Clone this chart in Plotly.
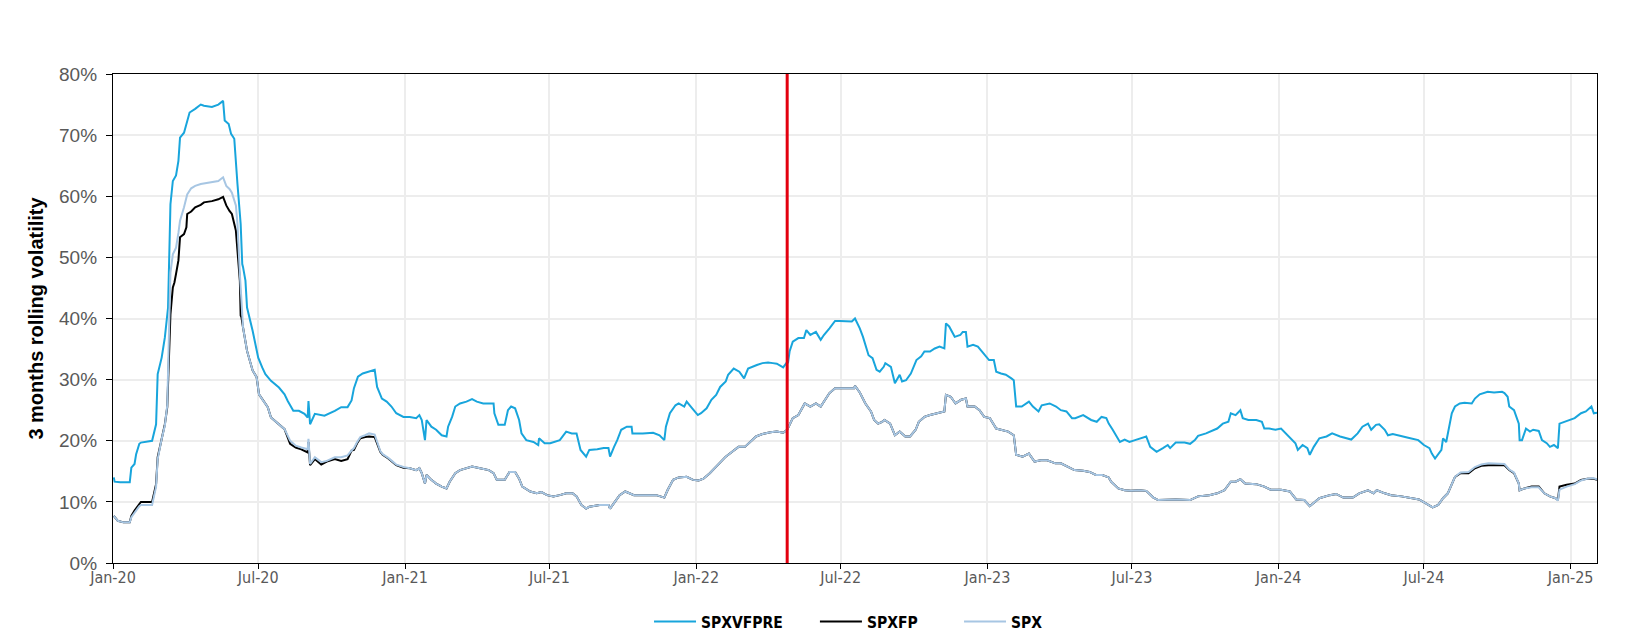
import plotly.graph_objects as go

# ---------------- data ----------------
vf_dates = [
"2020-01-02","2020-01-03","2020-01-10","2020-01-22","2020-01-24","2020-01-28","2020-01-30","2020-02-03","2020-02-05","2020-02-19",
"2020-02-24","2020-02-26","2020-03-02","2020-03-06","2020-03-10","2020-03-12","2020-03-13","2020-03-16","2020-03-20","2020-03-23",
"2020-03-25","2020-03-30","2020-04-02","2020-04-06","2020-04-13","2020-04-20","2020-04-24","2020-05-04","2020-05-12","2020-05-18",
"2020-05-20","2020-05-25","2020-05-28","2020-06-01","2020-06-05","2020-06-09","2020-06-11","2020-06-12","2020-06-15","2020-06-17",
"2020-06-24","2020-07-01","2020-07-06","2020-07-10","2020-07-17","2020-07-27","2020-08-03","2020-08-07","2020-08-14","2020-08-21",
"2020-08-28","2020-09-01","2020-09-02","2020-09-04","2020-09-10","2020-09-22","2020-10-05","2020-10-13","2020-10-21","2020-10-26",
"2020-10-29","2020-11-03","2020-11-09","2020-11-17","2020-11-24","2020-11-27","2020-12-03","2020-12-09","2020-12-15","2020-12-21",
"2020-12-30","2021-01-07","2021-01-15","2021-01-19","2021-01-22","2021-01-26","2021-01-28","2021-02-03","2021-02-09","2021-02-16",
"2021-02-22","2021-02-24","2021-03-01","2021-03-05","2021-03-11","2021-03-19","2021-03-26","2021-04-01","2021-04-09","2021-04-22",
"2021-04-23","2021-04-28","2021-05-06","2021-05-10","2021-05-14","2021-05-19","2021-05-24","2021-05-27","2021-06-02","2021-06-11",
"2021-06-17","2021-06-18","2021-06-25","2021-07-02","2021-07-08","2021-07-14","2021-07-22","2021-07-29","2021-08-04","2021-08-09",
"2021-08-16","2021-08-20","2021-08-30","2021-09-07","2021-09-13","2021-09-15","2021-09-20","2021-09-24","2021-09-29","2021-10-06",
"2021-10-12","2021-10-13","2021-10-26","2021-11-08","2021-11-16","2021-11-22","2021-11-24","2021-11-29","2021-12-06","2021-12-10",
"2021-12-17","2021-12-20","2021-12-27","2022-01-03","2022-01-07","2022-01-14","2022-01-20","2022-01-26","2022-01-31","2022-02-07",
"2022-02-10","2022-02-17","2022-02-24","2022-03-02","2022-03-07","2022-03-14","2022-03-18","2022-03-25","2022-04-01","2022-04-07",
"2022-04-12","2022-04-20","2022-04-25","2022-04-26","2022-04-28","2022-05-02","2022-05-09","2022-05-16","2022-05-19","2022-05-24",
"2022-05-31","2022-06-06","2022-06-10","2022-06-17","2022-06-24","2022-06-30","2022-07-08","2022-07-15","2022-07-19","2022-07-25",
"2022-07-29","2022-08-05","2022-08-10","2022-08-15","2022-08-19","2022-08-24","2022-08-26","2022-09-02","2022-09-07","2022-09-13",
"2022-09-16","2022-09-21","2022-09-27","2022-10-04","2022-10-10","2022-10-14","2022-10-21","2022-10-27","2022-11-02","2022-11-08",
"2022-11-10","2022-11-14","2022-11-21","2022-11-28","2022-12-01","2022-12-05","2022-12-07","2022-12-14","2022-12-20","2022-12-27",
"2023-01-03","2023-01-09","2023-01-12","2023-01-18","2023-01-24","2023-01-31","2023-02-03","2023-02-06","2023-02-13","2023-02-22",
"2023-02-27","2023-03-06","2023-03-10","2023-03-20","2023-03-28","2023-04-03","2023-04-10","2023-04-17","2023-04-21","2023-05-01",
"2023-05-05","2023-05-11","2023-05-18","2023-05-24","2023-05-30","2023-06-02","2023-06-07","2023-06-16","2023-06-22","2023-06-28",
"2023-07-05","2023-07-11","2023-07-19","2023-07-24","2023-08-01","2023-08-09","2023-08-15","2023-08-18","2023-08-25","2023-09-05",
"2023-09-12","2023-09-18","2023-09-22","2023-10-02","2023-10-10","2023-10-16","2023-10-23","2023-10-30","2023-11-02","2023-11-08",
"2023-11-14","2023-11-17","2023-11-24","2023-12-04","2023-12-11","2023-12-14","2023-12-20","2023-12-28","2024-01-04","2024-01-10",
"2024-01-16","2024-01-22","2024-01-25","2024-01-31","2024-02-06","2024-02-09","2024-02-14","2024-02-21","2024-03-01","2024-03-08",
"2024-03-18","2024-03-26","2024-04-01","2024-04-09","2024-04-15","2024-04-22","2024-04-26","2024-05-02","2024-05-06","2024-05-13",
"2024-05-17","2024-05-23","2024-06-03","2024-06-14","2024-06-24","2024-07-01","2024-07-08","2024-07-11","2024-07-15","2024-07-19",
"2024-07-23","2024-07-25","2024-07-29","2024-08-05","2024-08-09","2024-08-15","2024-08-21","2024-08-30","2024-09-03","2024-09-09",
"2024-09-19","2024-09-27","2024-10-07","2024-10-10","2024-10-14","2024-10-16","2024-10-22","2024-10-28","2024-10-29","2024-11-01",
"2024-11-06","2024-11-11","2024-11-15","2024-11-22","2024-11-26","2024-12-02","2024-12-06","2024-12-11","2024-12-16","2024-12-18",
"2024-12-24","2024-12-30","2025-01-06","2025-01-14","2025-01-20","2025-01-27","2025-01-30","2025-02-03",
]
spxvfpre = [
14.0, 13.3, 13.2, 13.2, 15.6, 16.2, 17.8, 19.5, 19.7, 20.0,
22.7, 30.9, 33.6, 36.9, 41.8, 55.5, 58.7, 62.5, 63.4, 65.8,
69.6, 70.4, 71.8, 73.7, 74.3, 75.0, 74.8, 74.6, 75.0, 75.6,
72.4, 71.8, 70.2, 69.4, 62.0, 55.5, 48.9, 48.4, 46.2, 41.8,
38.0, 33.6, 32.0, 30.9, 29.8, 28.7, 27.6, 26.5, 24.9, 24.9,
24.4, 23.8, 26.5, 22.7, 24.4, 24.1, 24.9, 25.5, 25.5, 26.6,
28.6, 30.5, 31.0, 31.3, 31.6, 28.8, 26.9, 26.4, 25.6, 24.5,
23.9, 23.9, 23.7, 24.2, 23.4, 20.1, 23.4, 22.3, 21.8, 20.9,
20.7, 22.3, 23.9, 25.6, 26.1, 26.4, 26.8, 26.4, 26.1, 26.1,
24.5, 22.6, 22.6, 25.0, 25.6, 25.3, 23.4, 21.2, 20.1, 19.8,
19.3, 20.4, 19.6, 19.6, 19.8, 20.1, 21.5, 21.2, 21.2, 18.5,
17.4, 18.5, 18.6, 18.8, 18.8, 17.4, 19.0, 20.1, 21.8, 22.3,
22.3, 21.2, 21.2, 21.3, 20.9, 20.1, 22.3, 24.5, 25.8, 26.1,
25.6, 26.4, 25.3, 24.2, 24.5, 25.3, 26.7, 27.5, 28.8, 29.7,
30.8, 31.8, 31.3, 30.2, 31.8, 32.1, 32.4, 32.7, 32.8, 32.7,
32.6, 32.0, 32.9, 32.7, 34.6, 36.2, 36.8, 36.8, 38.1, 37.3,
37.8, 36.5, 37.3, 38.4, 39.6, 39.6, 39.5, 39.5, 40.0, 38.4,
37.0, 34.0, 33.5, 31.6, 31.3, 32.1, 32.7, 32.1, 29.4, 30.8,
29.7, 29.9, 31.0, 33.2, 33.8, 34.6, 34.6, 35.1, 35.4, 35.1,
39.2, 38.7, 37.0, 37.3, 37.8, 37.8, 35.4, 35.7, 35.4, 34.3,
33.2, 33.2, 31.3, 31.0, 30.8, 30.2, 29.9, 25.6, 25.6, 26.4,
25.6, 24.8, 25.8, 26.1, 25.6, 25.0, 24.8, 23.7, 23.7, 24.2,
23.9, 23.4, 23.1, 23.9, 23.7, 22.8, 21.8, 19.8, 20.2, 19.8,
20.1, 20.4, 20.7, 19.0, 18.2, 18.8, 19.3, 18.8, 19.7, 19.7,
19.5, 20.1, 20.8, 21.2, 21.6, 22.0, 22.8, 23.1, 24.5, 24.2,
25.0, 23.7, 23.4, 23.4, 23.1, 22.0, 22.0, 21.8, 22.0, 21.2,
20.4, 19.6, 18.5, 19.3, 18.8, 17.7, 19.0, 20.4, 20.7, 21.2,
20.7, 20.4, 20.2, 21.2, 22.3, 22.8, 21.8, 22.6, 22.7, 21.8,
20.9, 21.1, 20.7, 20.4, 20.1, 19.3, 18.8, 17.9, 17.1, 17.9,
18.5, 20.4, 19.8, 24.5, 25.6, 26.1, 26.2, 26.1, 26.9, 27.6,
28.0, 27.9, 28.0, 27.8, 27.2, 25.6, 25.0, 22.8, 20.1, 20.1,
22.0, 21.5, 21.8, 21.6, 20.1, 19.6, 19.0, 19.3, 18.8, 22.8,
23.1, 23.4, 23.7, 24.5, 24.8, 25.6, 24.5, 24.6,
]

fp_dates = [
"2020-01-02","2020-01-07","2020-01-14","2020-01-22","2020-01-24","2020-01-28","2020-02-03","2020-02-05","2020-02-19","2020-02-24",
"2020-02-26","2020-03-02","2020-03-06","2020-03-09","2020-03-10","2020-03-12","2020-03-13","2020-03-16","2020-03-18","2020-03-20",
"2020-03-23","2020-03-25","2020-03-30","2020-04-02","2020-04-03","2020-04-08","2020-04-13","2020-04-20","2020-04-24","2020-05-04",
"2020-05-12","2020-05-18","2020-05-22","2020-05-26","2020-05-29","2020-06-03","2020-06-05","2020-06-08","2020-06-09","2020-06-10",
"2020-06-12","2020-06-17","2020-06-24","2020-06-29","2020-07-02","2020-07-07","2020-07-13","2020-07-17","2020-07-27","2020-08-03",
"2020-08-10","2020-08-17","2020-08-24","2020-09-01","2020-09-02","2020-09-04","2020-09-10","2020-09-18","2020-09-25","2020-10-05",
"2020-10-13","2020-10-21","2020-10-26","2020-10-29","2020-11-02","2020-11-06","2020-11-12","2020-11-17","2020-11-24","2020-12-01",
"2020-12-04","2020-12-11","2020-12-21","2020-12-30","2021-01-07","2021-01-15","2021-01-19","2021-01-22","2021-01-26","2021-01-28",
"2021-02-03","2021-02-09","2021-02-16","2021-02-22","2021-02-26","2021-03-05","2021-03-11","2021-03-19","2021-03-26","2021-04-05",
"2021-04-16","2021-04-22","2021-04-26","2021-05-06","2021-05-12","2021-05-19","2021-05-24","2021-05-28","2021-06-07","2021-06-15",
"2021-06-21","2021-06-28","2021-07-06","2021-07-14","2021-07-22","2021-07-30","2021-08-04","2021-08-10","2021-08-16","2021-08-20",
"2021-09-02","2021-09-13","2021-09-15","2021-09-21","2021-09-27","2021-10-04","2021-10-11","2021-10-15","2021-10-26","2021-11-12",
"2021-11-22","2021-11-26","2021-12-03","2021-12-10","2021-12-20","2021-12-28","2022-01-04","2022-01-10","2022-01-18","2022-01-24",
"2022-01-31","2022-02-07","2022-02-15","2022-02-23","2022-03-03","2022-03-09","2022-03-17","2022-03-25","2022-04-04","2022-04-12",
"2022-04-20","2022-04-25","2022-04-28","2022-05-02","2022-05-09","2022-05-17","2022-05-24","2022-05-31","2022-06-06","2022-06-10",
"2022-06-17","2022-06-24","2022-07-05","2022-07-18","2022-07-19","2022-07-25","2022-08-01","2022-08-08","2022-08-12","2022-08-17",
"2022-08-22","2022-08-25","2022-09-01","2022-09-07","2022-09-13","2022-09-20","2022-09-26","2022-10-03","2022-10-07","2022-10-14",
"2022-10-21","2022-10-31","2022-11-08","2022-11-10","2022-11-16","2022-11-22","2022-11-29","2022-12-05","2022-12-07","2022-12-16",
"2022-12-22","2022-12-28","2023-01-04","2023-01-12","2023-01-20","2023-01-27","2023-02-03","2023-02-06","2023-02-14","2023-02-22",
"2023-03-01","2023-03-09","2023-03-17","2023-03-27","2023-04-03","2023-04-11","2023-04-20","2023-05-01","2023-05-09","2023-05-17",
"2023-05-25","2023-06-02","2023-06-05","2023-06-14","2023-06-22","2023-06-30","2023-07-10","2023-07-19","2023-07-28","2023-08-03",
"2023-08-14","2023-08-25","2023-09-12","2023-09-22","2023-10-06","2023-10-16","2023-10-25","2023-11-02","2023-11-08","2023-11-14",
"2023-11-20","2023-12-04","2023-12-14","2023-12-22","2024-01-04","2024-01-15","2024-01-23","2024-02-02","2024-02-09","2024-02-21",
"2024-03-05","2024-03-13","2024-03-22","2024-04-03","2024-04-11","2024-04-22","2024-04-29","2024-05-03","2024-05-13","2024-05-21",
"2024-06-03","2024-06-14","2024-06-25","2024-07-03","2024-07-12","2024-07-19","2024-07-25","2024-07-31","2024-08-05","2024-08-09",
"2024-08-16","2024-08-26","2024-09-03","2024-09-11","2024-09-20","2024-10-02","2024-10-10","2024-10-16","2024-10-22","2024-10-28",
"2024-10-29","2024-11-04","2024-11-13","2024-11-22","2024-11-29","2024-12-06","2024-12-13","2024-12-16","2024-12-18","2024-12-27",
"2025-01-06","2025-01-14","2025-01-22","2025-01-29","2025-02-03",
]
spxfp = [
7.7, 6.9, 6.65, 6.65, 7.7, 8.6, 9.65, 10.0, 10.0, 12.9,
17.3, 20.6, 22.7, 25.5, 29.8, 36.4, 40.7, 45.1, 45.9, 47.3,
49.5, 53.3, 53.8, 54.9, 57.1, 57.5, 58.2, 58.6, 59.0, 59.2,
59.5, 59.9, 58.5, 57.6, 57.1, 54.4, 50.5, 46.2, 40.5, 40.2,
38.5, 34.7, 31.5, 30.4, 27.6, 26.6, 25.5, 23.8, 22.7, 21.9,
19.5, 18.9, 18.6, 18.1, 19.8, 16.0, 17.0, 16.1, 16.6, 17.0,
16.7, 17.0, 18.4, 18.5, 19.6, 20.4, 20.6, 20.7, 20.6, 18.2,
17.7, 17.1, 16.0, 15.6, 15.5, 15.2, 15.5, 14.7, 13.0, 14.4,
13.6, 13.0, 12.5, 12.2, 13.3, 14.7, 15.2, 15.5, 15.8, 15.5,
15.2, 14.7, 13.6, 13.6, 14.9, 14.9, 13.8, 12.5, 11.7, 11.4,
11.6, 11.1, 10.9, 11.1, 11.4, 11.4, 10.9, 9.5, 8.9, 9.2,
9.5, 9.5, 8.9, 10.0, 11.1, 11.7, 11.4, 11.1, 11.1, 11.1,
10.7, 11.9, 13.6, 14.0, 14.1, 13.6, 13.5, 13.8, 14.7, 15.5,
16.6, 17.4, 18.2, 19.0, 19.0, 19.8, 20.7, 21.1, 21.4, 21.5,
21.3, 21.8, 22.6, 23.7, 24.2, 26.1, 25.6, 26.1, 25.6, 26.4,
27.8, 28.6, 28.6, 28.6, 29.0, 27.9, 26.1, 24.8, 23.4, 22.8,
23.1, 23.4, 22.8, 20.9, 21.5, 20.7, 20.7, 21.8, 23.1, 23.9,
24.2, 24.5, 24.8, 27.5, 27.2, 26.1, 26.7, 26.9, 25.6, 25.6,
25.0, 23.9, 23.7, 22.0, 21.8, 21.5, 20.9, 17.7, 17.4, 17.9,
16.6, 16.8, 16.8, 16.3, 16.3, 15.8, 15.2, 15.1, 14.9, 14.4,
14.4, 14.0, 13.3, 12.2, 11.9, 11.8, 11.9, 11.8, 10.7, 10.3,
10.4, 10.4, 10.3, 10.9, 11.1, 11.4, 11.9, 13.3, 13.3, 13.7,
13.0, 12.9, 12.5, 12.0, 12.0, 11.7, 10.4, 10.3, 9.3, 10.6,
11.1, 11.3, 10.7, 10.7, 11.4, 11.9, 11.4, 11.9, 11.4, 11.1,
10.9, 10.7, 10.4, 9.8, 9.1, 9.5, 10.6, 11.4, 13.0, 14.1,
14.7, 14.7, 15.5, 15.9, 16.0, 16.0, 16.0, 15.2, 14.7, 13.0,
11.9, 12.2, 12.5, 12.5, 11.4, 10.9, 10.6, 10.3, 12.5, 12.8,
13.0, 13.6, 13.8, 13.8, 13.6,
]
spx = [
7.7, 6.9, 6.65, 6.65, 7.5, 8.3, 9.3, 9.5, 9.5, 12.5,
17.0, 20.3, 22.5, 25.8, 30.5, 41.0, 47.5, 50.5, 51.0, 51.6,
54.0, 56.0, 58.2, 59.8, 60.3, 61.3, 61.7, 62.0, 62.1, 62.4,
62.5, 63.1, 61.7, 61.2, 60.6, 58.5, 55.5, 47.3, 44.5, 42.4,
38.5, 34.7, 31.5, 30.4, 27.6, 26.6, 25.5, 23.8, 22.7, 21.9,
20.0, 19.2, 18.9, 18.6, 20.3, 16.2, 17.3, 16.5, 16.7, 17.3,
17.3, 17.6, 18.4, 18.8, 19.8, 20.6, 20.9, 21.2, 21.0, 18.3,
17.8, 17.2, 16.1, 15.7, 15.5, 15.2, 15.5, 14.7, 13.0, 14.4,
13.6, 13.0, 12.5, 12.2, 13.3, 14.7, 15.2, 15.5, 15.8, 15.5,
15.2, 14.7, 13.6, 13.6, 14.9, 14.9, 13.8, 12.5, 11.7, 11.4,
11.6, 11.1, 10.9, 11.1, 11.4, 11.4, 10.9, 9.5, 8.9, 9.2,
9.5, 9.5, 8.9, 10.0, 11.1, 11.7, 11.4, 11.1, 11.1, 11.1,
10.7, 11.9, 13.6, 14.0, 14.1, 13.6, 13.5, 13.8, 14.7, 15.5,
16.6, 17.4, 18.2, 19.0, 19.0, 19.8, 20.7, 21.1, 21.4, 21.5,
21.3, 21.8, 22.6, 23.7, 24.2, 26.1, 25.6, 26.1, 25.6, 26.4,
27.8, 28.6, 28.6, 28.6, 29.0, 27.9, 26.1, 24.8, 23.4, 22.8,
23.1, 23.4, 22.8, 20.9, 21.5, 20.7, 20.7, 21.8, 23.1, 23.9,
24.2, 24.5, 24.8, 27.5, 27.2, 26.1, 26.7, 26.9, 25.6, 25.6,
25.0, 23.9, 23.7, 22.0, 21.8, 21.5, 20.9, 17.7, 17.4, 17.9,
16.6, 16.8, 16.8, 16.3, 16.3, 15.8, 15.2, 15.1, 14.9, 14.4,
14.4, 14.0, 13.3, 12.2, 11.9, 11.8, 11.9, 11.8, 10.7, 10.3,
10.4, 10.4, 10.3, 10.9, 11.1, 11.4, 11.9, 13.3, 13.3, 13.7,
13.0, 12.9, 12.5, 12.0, 12.0, 11.7, 10.4, 10.3, 9.3, 10.6,
11.1, 11.3, 10.7, 10.7, 11.4, 11.9, 11.4, 11.9, 11.4, 11.1,
10.9, 10.7, 10.4, 9.8, 9.1, 9.5, 10.6, 11.4, 13.0, 14.1,
14.8, 14.9, 15.7, 16.1, 16.3, 16.3, 16.2, 15.3, 14.8, 13.0,
11.9, 12.2, 12.4, 12.4, 11.4, 10.9, 10.6, 10.2, 12.0, 12.5,
12.9, 13.5, 13.8, 13.9, 13.7,
]

assert len(vf_dates) == len(spxvfpre)
assert len(fp_dates) == len(spxfp) == len(spx)

event_date = "2022-04-25"

x_tick_dates = ["2020-01-01", "2020-07-01", "2021-01-01", "2021-07-01", "2022-01-01", "2022-07-01",
                "2023-01-01", "2023-07-01", "2024-01-01", "2024-07-01", "2025-01-01"]
x_tick_labels = ["Jan-20", "Jul-20", "Jan-21", "Jul-21", "Jan-22", "Jul-22",
                 "Jan-23", "Jul-23", "Jan-24", "Jul-24", "Jan-25"]
y_tick_values = [0, 10, 20, 30, 40, 50, 60, 70, 80]
y_tick_labels = ["0%", "10%", "20%", "30%", "40%", "50%", "60%", "70%", "80%"]

# ---------------- figure ----------------
NARROW = "Liberation Sans Narrow, Arial Narrow, DejaVu Sans Condensed, sans-serif"
CONDENSED = "DejaVu Sans Condensed, Liberation Sans Narrow, sans-serif"
REGULAR = "Liberation Sans, Arial, sans-serif"

fig = go.Figure()
fig.add_trace(go.Scatter(x=vf_dates, y=spxvfpre, mode="lines", name="SPXVFPRE", legend="legend",
                         line=dict(color="#18A5DC", width=2)))
fig.add_trace(go.Scatter(x=fp_dates, y=spxfp, mode="lines", name="SPXFP", legend="legend2",
                         line=dict(color="#000000", width=2)))
fig.add_trace(go.Scatter(x=fp_dates, y=spx, mode="lines", name="SPX", legend="legend3",
                         line=dict(color="#A7C6E3", width=2)))

fig.add_shape(type="line", xref="x", yref="paper", x0=event_date, x1=event_date, y0=0, y1=1,
              line=dict(color="#E3000F", width=3), layer="above")

legend_font = dict(family=CONDENSED, size=15.5, color="#000000", weight="bold")
common_legend = dict(orientation="h", xanchor="left", yref="container", y=0.025, yanchor="middle",
                     font=legend_font, bgcolor="rgba(0,0,0,0)", borderwidth=0, itemwidth=42)

fig.update_layout(
    width=1626, height=638,
    margin=dict(l=113, r=29, t=74, b=75),
    plot_bgcolor="white", paper_bgcolor="white",
    showlegend=True,
    legend=dict(x=0.3612, **common_legend),
    legend2=dict(x=0.4730, **common_legend),
    legend3=dict(x=0.5701, **common_legend),
    xaxis=dict(type="date", range=["2020-01-01", "2025-02-03"],
               tickmode="array", tickvals=x_tick_dates, ticktext=x_tick_labels,
               showgrid=True, gridcolor="#EDEDED", gridwidth=2,
               showline=True, linecolor="#000000", linewidth=1.3, mirror=True,
               ticks="outside", ticklen=5, tickcolor="#000000", tickwidth=1,
               ticklabelstandoff=-5,
               tickfont=dict(family=NARROW, size=16, color="#595959"), zeroline=False),
    yaxis=dict(range=[0, 80], tickmode="array", tickvals=y_tick_values, ticktext=y_tick_labels,
               showgrid=True, gridcolor="#EDEDED", gridwidth=2,
               showline=True, linecolor="#000000", linewidth=1.3, mirror=True,
               ticks="outside", ticklen=6, tickcolor="#000000", tickwidth=1,
               ticklabelstandoff=5,
               tickfont=dict(family=REGULAR, size=19, color="#595959"), zeroline=False,
               title=dict(text="3 months rolling volatility", standoff=10,
                          font=dict(family=REGULAR, size=20, color="#000000", weight="bold"))),
)

fig.write_html("out.html")
